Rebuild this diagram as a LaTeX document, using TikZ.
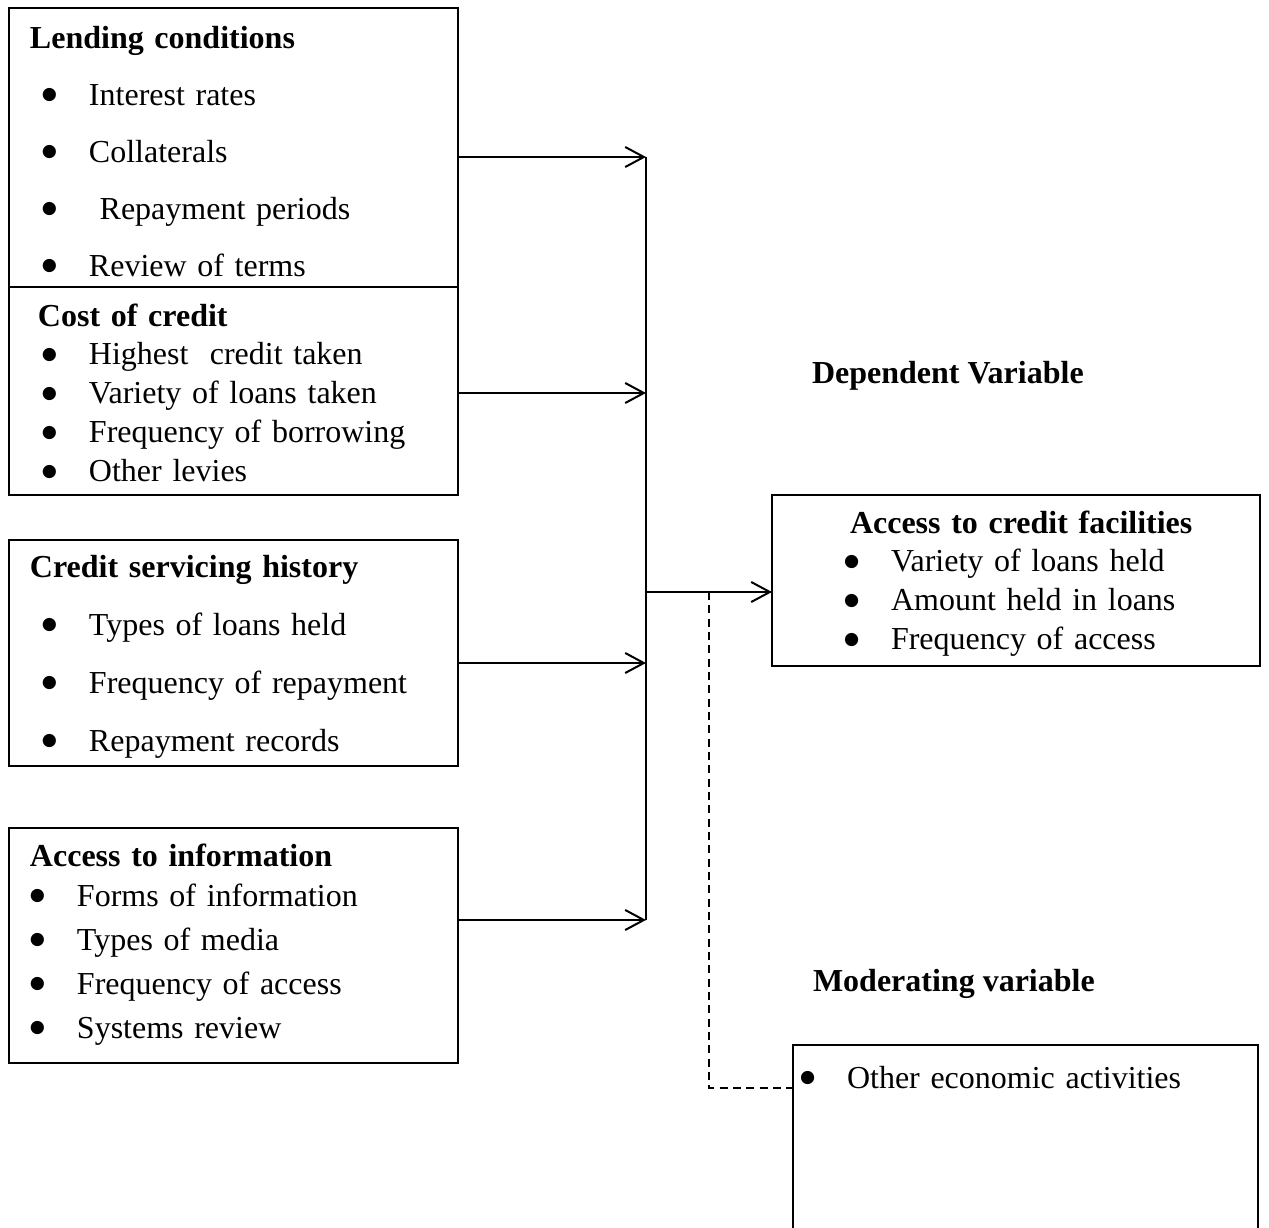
\documentclass[tikz,border=0pt]{standalone}
\usepackage{fontspec}
\setmainfont{Liberation Serif}
\newfontfamily\bulletfont{DejaVu Sans}
\usetikzlibrary{positioning, arrows.meta}
\newlength{\pxl}
\setlength{\pxl}{0.375pt}
\newcommand{\itm}[2][80]{\makebox[#1\pxl][l]{\hspace*{\dimexpr#1\pxl-47\pxl\relax}\raisebox{2pt}{\bulletfont\fontsize{6.5}{6.5}\selectfont ●}}#2}
\newcommand{\hd}[2][21]{\hspace*{#1\pxl}\textbf{#2}}
\tikzset{
  varbox/.style   = {draw, line width=0.75pt, inner sep=0pt, outer sep=0pt, anchor=north west},
  boxtext/.style  = {anchor=base west, inner sep=0pt, outer sep=0pt, align=left, font=\fontsize{12}{#1}\selectfont},
  boxtext/.default = 14.6pt,
  arrow/.style    = {-{Straight Barb[length=7pt, width=7.5pt]}, line width=0.75pt},
  modline/.style  = {line width=0.5pt, dash pattern=on 3pt off 2pt}
}
\begin{document}
\begin{tikzpicture}[x=0.375pt, y=-0.375pt]
  \useasboundingbox (0,0) rectangle (1269,1228);
  \node[varbox, minimum width=168.4pt, minimum height=104.6pt] (lend) at (9,8) {};
  \node[varbox, minimum width=168.4pt, minimum height=78pt, below=0pt of lend] (cost) {};
  \node[varbox, minimum width=168.4pt, minimum height=84.75pt] (hist) at (9,540) {};
  \node[varbox, minimum width=168.4pt, minimum height=88.1pt] (info) at (9,828) {};
  \node[varbox, minimum width=183pt, minimum height=64.1pt] (fac) at (772,495) {};
  \node[anchor=north west, inner sep=0pt, outer sep=0pt, minimum width=174.4pt, minimum height=68.6pt] (mod) at (793,1045) {};
  \draw[line width=0.75pt] (mod.south west) -- (mod.north west) -- (mod.north east) -- (mod.south east);

  \node[boxtext=21.4pt, text width=168pt] (lendtxt) at (9,48)
    {\hd{Lending conditions}\\ \itm{Interest rates}\\ \itm{Collaterals}\\ \itm{~Repayment periods}\\ \itm{Review of terms}};
  \node[boxtext=14.6pt, text width=168pt] (costtxt) at (9,326)
    {\hd[29]{Cost of credit}\\ \itm{Highest\ \ credit taken}\\ \itm{Variety of loans taken}\\ \itm{Frequency of borrowing}\\ \itm{Other levies}};
  \node[boxtext=21.75pt, text width=168pt] (histtxt) at (9,577)
    {\hd{Credit servicing history}\\ \itm{Types of loans held}\\ \itm{Frequency of repayment}\\ \itm{Repayment records}};
  \node[boxtext=16.5pt, text width=168pt] (infotxt) at (9,866)
    {\hd{Access to information}\\[-1.5pt] \itm[68]{Forms of information}\\ \itm[68]{Types of media}\\ \itm[68]{Frequency of access}\\ \itm[68]{Systems review}};
  \node[boxtext=14.6pt, text width=183pt] (factxt) at (772,533)
    {\hd[78]{Access to credit facilities}\\ \itm[119]{Variety of loans held}\\ \itm[119]{Amount held in loans}\\ \itm[119]{Frequency of access}};
  \node[boxtext, text width=174pt] (modtxt) at (793,1088) {\itm[54]{Other economic activities}};

  \node[boxtext] (deplbl) at (812,383) {\textbf{Dependent Variable}};
  \node[boxtext] (modlbl) at (813,991) {\textbf{Moderating variable}};

  \coordinate (j1) at (646,157);
  \coordinate (j2) at (646,393);
  \coordinate (j3) at (646,663);
  \coordinate (j4) at (646,920);
  \coordinate (jm) at (646,592);
  \coordinate (dtop) at (709,592);
  \coordinate (dcorner) at (709,1088);
  \draw[arrow] (lend.east |- j1) -- (j1);
  \draw[arrow] (cost.east |- j2) -- (j2);
  \draw[arrow] (hist.east |- j3) -- (j3);
  \draw[arrow] (info.east |- j4) -- (j4);
  \draw[line width=0.75pt] (j1) -- (j4);
  \draw[arrow] (jm) -- (fac.west |- jm);
  \draw[modline] (dtop) -- (dcorner) -- (mod.west |- dcorner);
\end{tikzpicture}
\end{document}
